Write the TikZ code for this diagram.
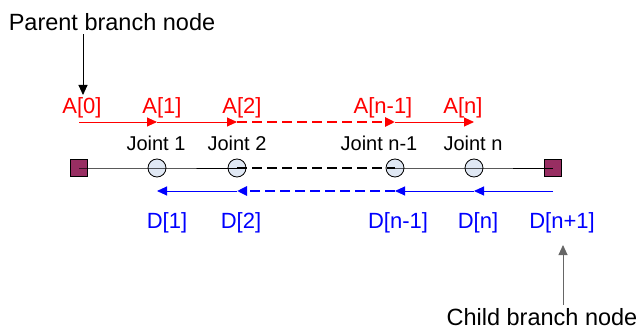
\documentclass[tikz,border=0pt]{standalone}
\usepackage{fontspec}
\setmainfont{Liberation Sans}
\usetikzlibrary{positioning,arrows.meta}
\definecolor{termfill}{RGB}{152,46,98}
\definecolor{jointfill}{RGB}{224,232,244}

\begin{document}
\begin{tikzpicture}[x=1pt, y=-1pt, >={Triangle[length=10pt,width=9pt]},
  term/.style={draw, line width=0.8pt, fill=termfill, minimum size=17pt, inner sep=0pt},
  joint/.style={draw, line width=0.8pt, circle, fill=jointfill, minimum size=18pt, inner sep=0pt},
  jlabel/.style={font=\fontsize{20}{24}\selectfont},
  alabel/.style={text=red, font=\fontsize{22}{26}\selectfont},
  dlabel/.style={text=blue, font=\fontsize{22}{26}\selectfont},
  caption/.style={font=\fontsize{23.5}{28}\selectfont},
  thin line/.style={line width=0.9pt},
  gap line/.style={line width=2.8pt, dash pattern=on 10pt off 5pt}]
\useasboundingbox (0,0) rectangle (643,329);
% chain of joints
\node[term] (t0) at (79,168) {};
\node[joint] (j1) at (157,168) {};
\node[joint] (j2) at (237,168) {};
\node[joint] (j3) at (395,168) {};
\node[joint] (j4) at (474,168) {};
\node[term] (t5) at (553,168) {};
\draw[thin line] (t0.center) -- (j1.center) -- (j2.center);
\draw[gap line] (j2.center) -- (j3.center);
\draw[thin line] (j3.center) -- (j4.center) -- (t5.center);
\node[jlabel] at (156,143) (lj1) {Joint 1};
\node[jlabel] at (237,143) (lj2) {Joint 2};
\node[jlabel] at (379,143) (lj3) {Joint n-1};
\node[jlabel] at (473,143) (lj4) {Joint n};
% forward pass
\coordinate (a0) at (79,122);
\coordinate (a1) at (157,122);
\coordinate (a2) at (237,122);
\coordinate (a3) at (395,122);
\coordinate (a4) at (474,122);
\draw[->, red, thin line] (a0) -- (a1);
\draw[->, red, thin line] (a1) -- (a2);
\draw[->, red, gap line] (a2) -- (a3);
\draw[->, red, thin line] (a3) -- (a4);
\node[alabel] at (82,108) (la0) {A[0]};
\node[alabel] at (162,108) (la1) {A[1]};
\node[alabel] at (242,108) (la2) {A[2]};
\node[alabel] at (383,108) (la3) {A[n-1]};
\node[alabel] at (463,108) (la4) {A[n]};
% backward pass
\coordinate (d5) at (553,191);
\coordinate (d4) at (474,191);
\coordinate (d3) at (395,191);
\coordinate (d2) at (237,191);
\coordinate (d1) at (157,191);
\draw[->, blue, thin line] (d5) -- (d4);
\draw[->, blue, thin line] (d4) -- (d3);
\draw[->, blue, gap line] (d3) -- (d2);
\draw[->, blue, thin line] (d2) -- (d1);
\node[dlabel] at (167,223) (ld1) {D[1]};
\node[dlabel] at (241,223) (ld2) {D[2]};
\node[dlabel] at (398,223) (ld3) {D[n-1]};
\node[dlabel] at (478,223) (ld4) {D[n]};
\node[dlabel] at (562,223) (ld5) {D[n+1]};
% branch nodes
\node[caption] at (112,22) (parent) {Parent branch node};
\node[caption] at (542,317) (child) {Child branch node};
\coordinate (pin) at (83,95);
\coordinate (cin) at (563,245);
\draw[->, thin line] (parent.south -| pin) -- (pin);
\draw[->, thin line, black!60] (child.north -| cin) -- (cin);
\end{tikzpicture}
\end{document}
